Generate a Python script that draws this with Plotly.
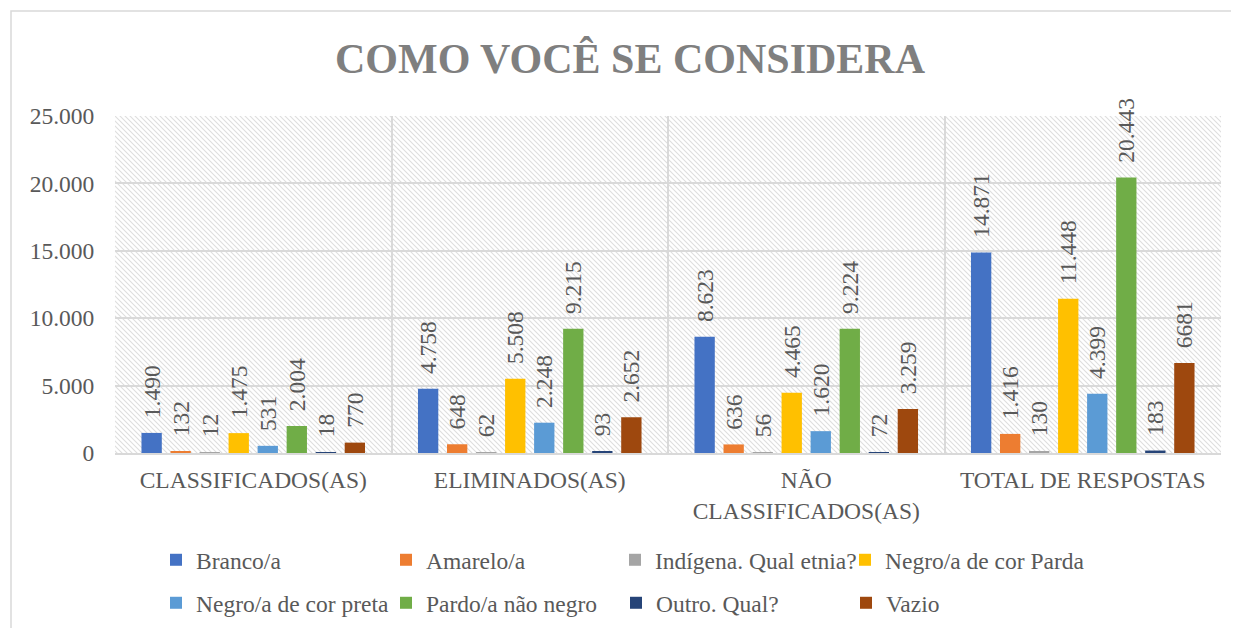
import base64
import plotly.graph_objects as go

categories = ["CLASSIFICADOS(AS)", "ELIMINADOS(AS)", "NÃO<br>CLASSIFICADOS(AS)", "TOTAL DE RESPOSTAS"]
series_names = ["Branco/a", "Amarelo/a", "Indígena. Qual etnia?", "Negro/a de cor Parda",
                "Negro/a de cor preta", "Pardo/a não negro", "Outro. Qual?", "Vazio"]
branco = [1490, 4758, 8623, 14871]
amarelo = [132, 648, 636, 1416]
indigena = [12, 62, 56, 130]
negro_parda = [1475, 5508, 4465, 11448]
negro_preta = [531, 2248, 1620, 4399]
pardo_nao_negro = [2004, 9215, 9224, 20443]
outro = [18, 93, 72, 183]
vazio = [770, 2652, 3259, 6681]
label_texts = [
    ["1.490", "4.758", "8.623", "14.871"],
    ["132", "648", "636", "1.416"],
    ["12", "62", "56", "130"],
    ["1.475", "5.508", "4.465", "11.448"],
    ["531", "2.248", "1.620", "4.399"],
    ["2.004", "9.215", "9.224", "20.443"],
    ["18", "93", "72", "183"],
    ["770", "2.652", "3.259", "6681"],
]
y_tickvals = [0, 5000, 10000, 15000, 20000, 25000]
y_ticktext = ["0", "5.000", "10.000", "15.000", "20.000", "25.000"]

series_values = [branco, amarelo, indigena, negro_parda, negro_preta, pardo_nao_negro, outro, vazio]
colors = ["#4472C4", "#ED7D31", "#A5A5A5", "#FFC000", "#5B9BD5", "#70AD47", "#264478", "#9E480E"]

FONT = "Liberation Serif"
TXT = "#595959"
FS = 23.5
PAD = "\u00a0\u00a0"  # gap between bar top and its rotated label

OFF = 8  # page body margin offset
W, H = 1239, 628
L, R, T, B = 115 - OFF, 18 + OFF, 116 - OFF, 175 + OFF
PW, PH = W - L - R, H - T - B

legend_of = ["legend", "legend", "legend4", "legend3", "legend2", "legend2", "legend2", "legend2"]

fig = go.Figure()
for i, (name, vals) in enumerate(zip(series_names, series_values)):
    fig.add_trace(go.Bar(
        name=name, x=categories, y=vals, marker_color=colors[i], marker_line_width=0,
        text=[PAD + t for t in label_texts[i]], textposition="outside", textangle=-90,
        textfont=dict(family=FONT, size=FS, color=TXT),
        constraintext="none", cliponaxis=False,
        legend=legend_of[i],
    ))

# hatch background
svg = (f'<svg xmlns="http://www.w3.org/2000/svg" width="{PW}" height="{PH}">'
       '<defs><pattern id="p" patternUnits="userSpaceOnUse" width="5" height="5">'
       '<path d="M-1,-1 L6,6 M-1,4 L1,6 M4,-1 L6,1" stroke="#dedede" stroke-width="1.1"/>'
       '</pattern></defs><rect width="100%" height="100%" fill="#ffffff"/>'
       '<rect width="100%" height="100%" fill="url(#p)"/></svg>')
src = "data:image/svg+xml;base64," + base64.b64encode(svg.encode()).decode()
fig.add_layout_image(dict(source=src, xref="paper", yref="paper", x=0, y=1, sizex=1, sizey=1,
                          sizing="stretch", layer="below", xanchor="left", yanchor="top"))

# outer chart border (page coords 11,11 -> beyond)
fig.add_shape(type="rect", xref="paper", yref="paper",
              x0=(11 - OFF - L) / PW, x1=(W + 10 - L) / PW,
              y0=(T + PH - (H + 10)) / PH, y1=(T + PH - (11 - OFF)) / PH,
              line=dict(color="#d9d9d9", width=1.5), fillcolor="rgba(0,0,0,0)", layer="below")

leg_common = dict(orientation="h", xanchor="left", yanchor="middle",
                  xref="container", yref="container",
                  font=dict(family=FONT, size=FS, color=TXT), entrywidth=185,
                  bgcolor="rgba(0,0,0,0)", traceorder="normal")
wide = {**leg_common, "entrywidth": 260}
LX = (156 - OFF) / W
LX4 = (615 - OFF) / W
LX3 = (845 - OFF) / W
ROW1 = 1 - (560 - OFF) / H
ROW2 = 1 - (603 - OFF) / H
fig.update_layout(
    width=W, height=H,
    margin=dict(l=L, r=R, t=T, b=B),
    paper_bgcolor="white", plot_bgcolor="white",
    title=dict(text="<b>COMO VOCÊ SE CONSIDERA</b>", x=(630 - OFF) / W, xanchor="center",
               y=1 - (58 - OFF) / H, yanchor="middle", yref="container", xref="container",
               font=dict(family=FONT, size=42, color="#7f7f7f")),
    barmode="group", bargap=0.16, bargroupgap=0.3,
    legend=dict(x=LX, y=ROW1, **leg_common),
    legend4=dict(x=LX4, y=ROW1, **wide),
    legend3=dict(x=LX3, y=ROW1, **wide),
    legend2=dict(x=LX, y=ROW2, **leg_common),
    xaxis=dict(tickson="boundaries", showgrid=True, gridcolor="#d9d9d9", gridwidth=1.5,
               showline=True, linecolor="#d9d9d9", linewidth=1.5,
               ticks="outside", ticklen=23, tickcolor="rgba(0,0,0,0)", ticklabelstandoff=5,
               tickfont=dict(family=FONT, size=FS, color=TXT)),
    yaxis=dict(range=[0, 25000], tickvals=y_tickvals, ticktext=y_ticktext,
               showgrid=True, gridcolor="#d9d9d9", gridwidth=1.5, zeroline=False,
               ticks="outside", ticklen=15, tickcolor="rgba(0,0,0,0)",
               tickfont=dict(family=FONT, size=FS, color=TXT)),
    showlegend=True,
)
fig.write_html("out.html")
